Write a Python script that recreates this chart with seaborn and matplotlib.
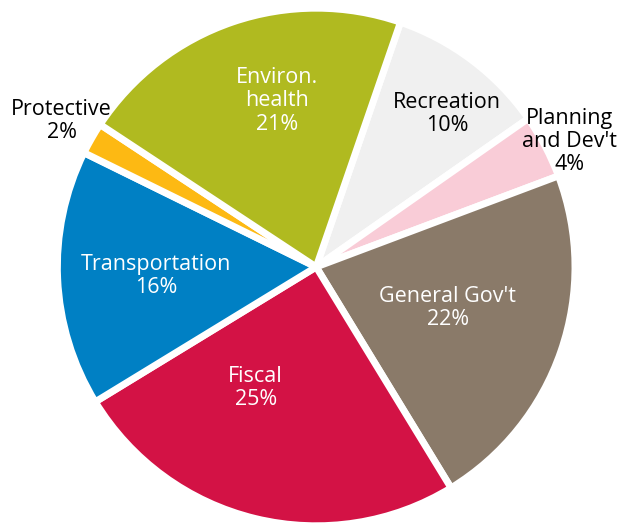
import numpy as np
import matplotlib
matplotlib.use("Agg")
import matplotlib.pyplot as plt
import seaborn as sns

sns.set_theme(style="white")
plt.rcParams["font.family"] = ["Open Sans", "DejaVu Sans"]

categories = ["Recreation", "Planning\nand Dev't", "General Gov't", "Fiscal",
              "Transportation", "Protective", "Environ.\nhealth"]
shares = [10, 4, 22, 25, 16, 2, 21]
colors = ["#F0F0F0", "#F9CCD7", "#8A7A69", "#D31245", "#0080C4", "#FDB913", "#B0BA20"]
text_colors = ["black", "black", "white", "white", "white", "black", "white"]
# label placement: distance from centre and angular nudge (degrees)
label_dist = [0.79, 1.11, 0.54, 0.53, 0.63, 1.15, 0.67]
label_nudge = [-3.5, -1.5, 1.7, -13, 0.6, 0, -5.5]

fig = plt.figure(figsize=(6.26, 5.23), dpi=100)
ax = fig.add_axes([0, 0, 1, 1])

wedges, _ = ax.pie(shares, colors=colors, startangle=71, counterclock=False,
                   radius=1.015, wedgeprops=dict(edgecolor="white", linewidth=5))

for w, name, val, tc, d, nd in zip(wedges, categories, shares, text_colors, label_dist, label_nudge):
    mid = np.deg2rad((w.theta1 + w.theta2) / 2 + nd)
    ax.text(d * np.cos(mid), d * np.sin(mid), f"{name}\n{val}%", ha="center", va="center",
            color=tc, fontsize=15.5, linespacing=1.15)

ax.set_xlim(-1.24, 1.215)
ax.set_ylim(-1.004, 1.047)
ax.set_aspect("equal")
ax.axis("off")

fig.savefig("out.png", dpi=100)
